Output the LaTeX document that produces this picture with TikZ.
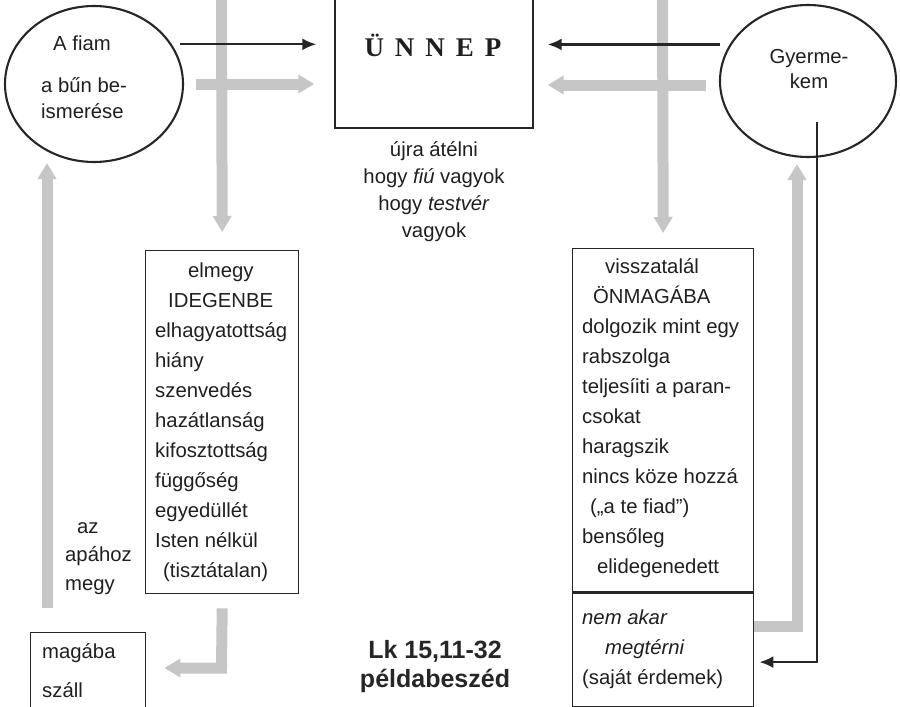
\documentclass[tikz,border=0pt]{standalone}
\usepackage{fontspec}
\setmainfont{Liberation Sans}
\newfontfamily\romanfont{Liberation Serif}
\usetikzlibrary{arrows.meta,positioning,shapes.geometric}

\tikzset{
  lbl/.style={inner sep=0pt, text=black!88, font=\fontsize{20.3}{30}\selectfont},
  frame/.style={draw=black!85, line width=1.4pt, inner sep=0pt},
  ring/.style={ellipse, draw=black!85, line width=2.1pt, inner sep=0pt},
  blk/.style={draw=black!85, line width=2.2pt, -{Latex[length=14pt,width=12pt]}},
  grey/.style={draw=gray!45, line width=11pt, -{Triangle[length=16pt,width=18pt]}},
}

\begin{document}
\begin{tikzpicture}[x=1pt,y=-1pt]
\clip (0,0) rectangle (900,707);

% the two persons
\node[ring, minimum width=178pt, minimum height=156pt] (fiam) at (94,84) {};
\node[ring, minimum width=176pt, minimum height=152pt] (gyermek) at (808,81) {};
\node[lbl, anchor=base] (fiamA) at (82,50) {A fiam};
\node[lbl, anchor=base west, font=\fontsize{20.3}{26}\selectfont] (fiamB) at (41,92)
  {\begin{tabular}[t]{@{}l@{}}a bűn be-\\ ismerése\end{tabular}};
\node[lbl, anchor=base, font=\fontsize{20.3}{25}\selectfont] (gyermekTxt) at (809,63)
  {\begin{tabular}[t]{@{}c@{}}Gyerme-\\ kem\end{tabular}};

% feast
\node[frame, minimum width=198pt, minimum height=148pt] (unnep) at (434,54) {};
\node[inner sep=0pt, anchor=base, text=black!88, font=\romanfont\bfseries\fontsize{27}{27}\selectfont] (unnepTxt) at (433,56)
  {Ü\hspace{11pt}N\hspace{11pt}N\hspace{11pt}E\hspace{11pt}P};
\node[lbl, below=8pt of unnep, font=\fontsize{20.3}{27.3}\selectfont] (atelni)
  {\begin{tabular}{@{}c@{}}újra átélni\\ hogy \textit{fiú} vagyok\\ hogy \textit{testvér}\\ vagyok\end{tabular}};

% left column
\node[frame, minimum width=153pt, minimum height=343pt, anchor=north west] (idegen) at (145,250) {};
\node[lbl, below right=6pt and 10pt of idegen.north west] (idegenTxt)
  {\begin{tabular}{@{}l@{}}\hspace*{33pt}elmegy\\ \hspace*{13pt}IDEGENBE\\ elhagyatottság\\ hiány\\ szenvedés\\
   hazátlanság\\ kifosztottság\\ függőség\\ egyedüllét\\ Isten nélkül\\ \hspace*{8pt}(tisztátalan)\end{tabular}};
\node[lbl, anchor=base west, font=\fontsize{20.3}{28.5}\selectfont] (apahoz) at (65,533)
  {\begin{tabular}[t]{@{}l@{}}\hspace*{12pt}az\\ apához\\ megy\end{tabular}};
\node[frame, minimum width=115pt, minimum height=120pt, anchor=north west] (magaba) at (30,632) {};
\node[lbl, anchor=base west, font=\fontsize{20.3}{39}\selectfont] (magabaTxt) at (42,658)
  {\begin{tabular}[t]{@{}l@{}}magába\\ száll\end{tabular}};

% right column
\node[frame, minimum width=181pt, minimum height=343pt, anchor=north west] (onmaga) at (572,248) {};
\node[lbl, below right=4pt and 10pt of onmaga.north west] (onmagaTxt)
  {\begin{tabular}{@{}l@{}}\hspace*{23pt}visszatalál\\ \hspace*{11pt}ÖNMAGÁBA\\ dolgozik mint egy\\ rabszolga\\
   teljesíiti a paran-\\ csokat\\ haragszik\\ nincs köze hozzá\\ \hspace*{8pt}(„a te fiad”)\\ bensőleg\\
   \hspace*{15pt}elidegenedett\end{tabular}};
\node[frame, minimum width=181pt, minimum height=114pt, anchor=north] (megterni) at (onmaga.south) {};
\node[lbl, below right=11pt and 10pt of megterni.north west] (megterniTxt)
  {\begin{tabular}{@{}l@{}}\textit{nem akar}\\ \hspace*{23pt}\textit{megtérni}\\ (saját érdemek)\end{tabular}};

\node[lbl, anchor=base, text=black!85, font=\bfseries\fontsize{25}{29}\selectfont] (lukacs) at (435,658)
  {\begin{tabular}[t]{@{}c@{}}Lk 15,11-32\\ példabeszéd\end{tabular}};

% grey paths
\coordinate (topL) at (221.5,-5);
\coordinate (topR) at (662.5,-5);
\coordinate (hazaAlj) at (47,608);
\coordinate (bend) at (221.5,668);
\draw[grey] (topL) -- ([yshift=18pt]idegen.north);
\draw[grey] (topR) -- ([yshift=15pt]onmaga.north);
\draw[grey] ([xshift=12pt]fiam.east) -- ([xshift=-20pt]unnep.west |- fiam.east);
\draw[grey] ([xshift=-13pt,yshift=-4pt]gyermek.west) -- ([xshift=14pt,yshift=-4pt]unnep.east |- gyermek.west);
\draw[grey] (hazaAlj) -- (hazaAlj |- fiam.south);
\draw[grey] ([yshift=-14pt]idegen.south) -- (bend) -- ([xshift=18pt]magaba.east |- bend);
\draw[grey] ([yshift=24pt]megterni.east) -| ([xshift=-11pt,yshift=-6pt]gyermek.south);

% black paths
\draw[blk] ([xshift=8pt]fiam.27) -- ([xshift=-18pt]unnep.west |- fiam.27);
\draw[blk] ([xshift=-10pt]gyermek.155) -- ([xshift=14pt]unnep.east |- gyermek.155);
\draw[blk] ([xshift=9pt,yshift=-41pt]gyermek.center) |- ([xshift=5pt,yshift=-12pt]megterni.east);
\end{tikzpicture}
\end{document}
